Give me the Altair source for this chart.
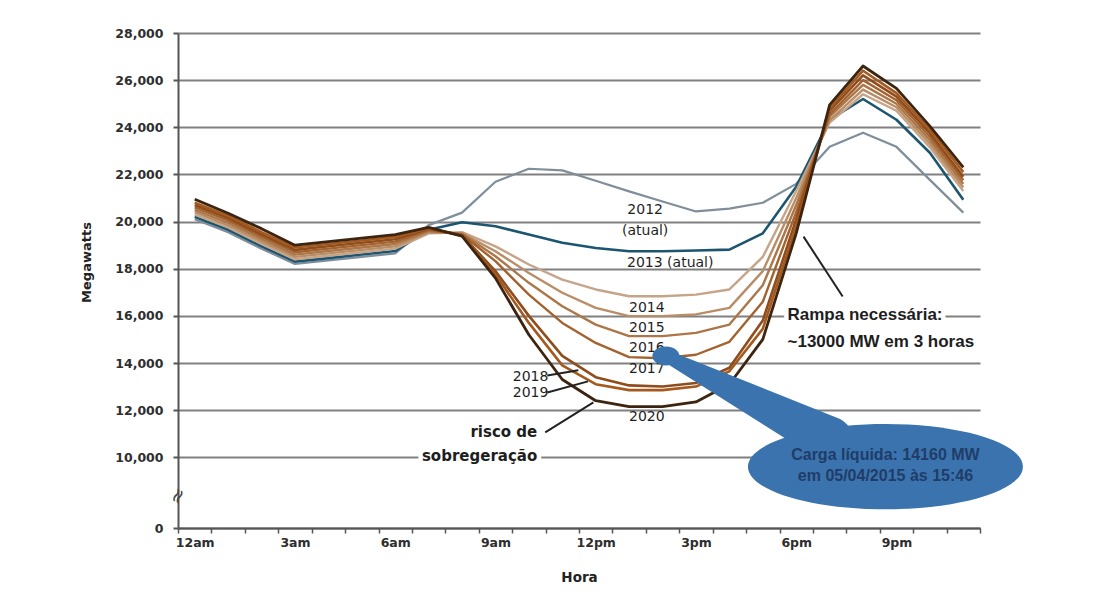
import json

import altair as alt
import pandas as pd

# ---- data -----------------------------------------------------------------
HOURS = list(range(24))
HOUR_LABELS = ["12am", "3am", "6am", "9am", "12pm", "3pm", "6pm", "9pm"]

YEARS = ["2012", "2013", "2014", "2015", "2016", "2017", "2018", "2019", "2020"]

LOAD_2012 = [20100, 19550, 18850, 18200, 18350, 18500, 18650, 19850, 20380, 21690, 22240, 22170,
             21730, 21280, 20850, 20430, 20550, 20800, 21600, 23170, 23770, 23170, 21770, 20380]
LOAD_2013 = [20200, 19650, 18950, 18300, 18450, 18600, 18750, 19650, 19970, 19800, 19450, 19100,
             18880, 18740, 18740, 18770, 18810, 19500, 21480, 24320, 25200, 24320, 22920, 20930]
LOAD_2014 = [20300, 19750, 19050, 18400, 18550, 18700, 18850, 19500, 19550, 18950, 18180, 17540,
             17120, 16830, 16830, 16900, 17120, 18500, 21300, 24200, 25400, 24700, 23150, 21300]
LOAD_2015 = [20400, 19850, 19150, 18500, 18650, 18800, 18950, 19550, 19500, 18740, 17820, 16980,
             16340, 15990, 15990, 16060, 16340, 17900, 21000, 24300, 25600, 24850, 23300, 21450]
LOAD_2016 = [20500, 19950, 19250, 18600, 18750, 18900, 19050, 19600, 19480, 18530, 17400, 16410,
             15630, 15140, 15140, 15280, 15630, 17300, 20700, 24450, 25800, 25000, 23450, 21600]
LOAD_2017 = [20600, 20050, 19350, 18700, 18850, 19000, 19150, 19650, 19450, 18320, 16900, 15700,
             14850, 14250, 14200, 14350, 14900, 16600, 20400, 24550, 26000, 25150, 23600, 21750]
LOAD_2018 = [20700, 20150, 19450, 18800, 18950, 19100, 19250, 19700, 19420, 17900, 16000, 14300,
             13400, 13050, 13000, 13150, 13800, 15800, 20100, 24700, 26200, 25300, 23750, 21900]
LOAD_2019 = [20800, 20250, 19550, 18900, 19050, 19200, 19350, 19720, 19400, 17750, 15700, 13900,
             13100, 12850, 12850, 13000, 13650, 15450, 19800, 24800, 26400, 25450, 23900, 22100]
LOAD_2020 = [20950, 20350, 19700, 19000, 19150, 19300, 19450, 19750, 19380, 17600, 15200, 13300,
             12400, 12150, 12150, 12350, 13100, 15000, 19500, 24950, 26600, 25650, 24050, 22300]

LOADS = [LOAD_2012, LOAD_2013, LOAD_2014, LOAD_2015, LOAD_2016,
         LOAD_2017, LOAD_2018, LOAD_2019, LOAD_2020]

LINE_COLORS = ["#7f8e9a", "#1c5570", "#c6a488", "#b98d66", "#ab7648",
               "#a3622e", "#8f4c1c", "#a4591f", "#3d2410"]
LINE_WIDTHS = [2.2, 2.6, 2.4, 2.4, 2.4, 2.4, 2.6, 2.6, 2.8]

# broken value axis: the bottom of the scale is labelled 0
AXIS_ZERO = 7000
Y_TICKS = [AXIS_ZERO, 10000, 12000, 14000, 16000, 18000, 20000, 22000, 24000, 26000, 28000]

# series labels (hour, MW, text)
YEAR_LABEL_HOUR = [13.48, 13.48, 14.23, 13.53, 13.53, 13.53, 13.53, 10.05, 10.05, 13.53]
YEAR_LABEL_MW = [20480, 19600, 18260, 16340, 15490, 14650, 13730, 13400, 12740, 11700]
YEAR_LABEL_TEXT = ["2012", "(atual)", "2013 (atual)", "2014", "2015", "2016", "2017",
                   "2018", "2019", "2020"]

# leader lines (start hour, start MW, end hour, end MW)
LEADER_H1 = [10.55, 10.55, 10.49, 18.22]
LEADER_MW1 = [13470, 12750, 11060, 19360]
LEADER_H2 = [11.48, 11.77, 11.93, 19.39]
LEADER_MW2 = [13690, 13220, 12330, 16820]

# callout: marker, pointer and bubble
CALLOUT_POINT_HOUR = 14.1
CALLOUT_POINT_MW = 14300
CALLOUT_TIP_HOUR = 19.0
CALLOUT_TIP_MW = 10760
CALLOUT_HOUR = 20.67
CALLOUT_MW = 9600
CALLOUT_LINES = ["Carga líquida: 14160 MW", "em 05/04/2015 às 15:46"]
CALLOUT_LINE_MW = [10090, 9200]

RAMP_TEXT = ["Rampa necessária:", "~13000 MW em 3 horas"]
RAMP_HOUR = 17.74
RAMP_MW = [16050, 14870]

RISK_TEXT = ["risco de", "sobregeração"]
RISK_HOUR = 10.25
RISK_MW = [11060, 10040]

# ---- encodings ------------------------------------------------------------
label_js = json.dumps(HOUR_LABELS)
x_axis = alt.Axis(
    values=[v / 2 for v in range(-1, 48)],
    labelExpr=f"datum.value % 3 === 0 ? {label_js}[datum.value / 3] : ''",
    tickOpacity={"condition": {"test": "datum.value % 1 !== 0", "value": 1}, "value": 0},
    grid=False,
    domainColor="#555555", domainWidth=2,
    tickColor="#555555", tickWidth=1.5, tickSize=5,
    labelFont="DejaVu Sans", labelFontWeight="bold", labelFontSize=12.5, labelColor="#2e2e2e",
    labelPadding=3, labelOverlap=False, labelFlush=False,
    title="Hora", titleFont="DejaVu Sans", titleFontSize=13.5, titleFontWeight="bold",
    titleColor="#222222", titleY=49, titleBaseline="middle",
)
y_axis = alt.Axis(
    values=Y_TICKS,
    labelExpr=f"datum.value == {AXIS_ZERO} ? '0' : format(datum.value, ',')",
    grid=True, gridColor="#808080", gridWidth=2,
    domainColor="#555555", domainWidth=2,
    tickColor="#555555", tickWidth=2, tickSize=5,
    labelFont="DejaVu Sans", labelFontWeight="bold", labelFontSize=12.5, labelColor="#2e2e2e",
    labelPadding=10,
    title="Megawatts", titleFont="DejaVu Sans", titleFontSize=13, titleFontWeight="bold",
    titleColor="#222222", titleAngle=270, titleX=-92, titleY=229,
    titleAlign="center", titleBaseline="middle",
)
x_scale = alt.Scale(domain=[-0.5, 23.5], nice=False, zero=False)
y_scale = alt.Scale(domain=[AXIS_ZERO, 28000], nice=False, zero=False)


def X(field="hour"):
    return alt.X(f"{field}:Q", scale=x_scale, axis=x_axis)


def Y(field="mw"):
    return alt.Y(f"{field}:Q", scale=y_scale, axis=y_axis)


# ---- net-load curves -------------------------------------------------------
layers = []
for year, load, color, width in zip(YEARS, LOADS, LINE_COLORS, LINE_WIDTHS):
    df = pd.DataFrame({"hour": HOURS, "mw": load, "year": year})
    layers.append(
        alt.Chart(df).mark_line(color=color, strokeWidth=width, strokeJoin="round")
        .encode(x=X(), y=Y())
    )

# axis break marker on the value axis
brk = pd.DataFrame({"hour": [-0.5], "mw": [8350], "t": ["≈"]})
layers.append(
    alt.Chart(brk).mark_text(fontSize=20, angle=295, color="#444444", font="DejaVu Sans")
    .encode(x=X(), y=Y(), text="t:N")
)

# leader lines
leaders = pd.DataFrame({"hour": LEADER_H1, "mw": LEADER_MW1,
                        "hour2": LEADER_H2, "mw2": LEADER_MW2})
layers.append(
    alt.Chart(leaders).mark_rule(color="#222222", strokeWidth=2)
    .encode(x=X(), y=Y(), x2="hour2:Q", y2="mw2:Q")
)

# series labels
labels = pd.DataFrame({"hour": YEAR_LABEL_HOUR, "mw": YEAR_LABEL_MW, "t": YEAR_LABEL_TEXT})
layers.append(
    alt.Chart(labels).mark_text(font="DejaVu Sans", fontSize=14, color="#1f1f1f",
                                baseline="middle", align="center")
    .encode(x=X(), y=Y(), text="t:N")
)

# over-generation note, with a white halo that breaks the grid line behind it
risk = pd.DataFrame({"hour": [RISK_HOUR] * 2, "mw": RISK_MW, "t": RISK_TEXT})
risk_style = dict(font="DejaVu Sans", fontSize=15, fontWeight="bold", align="right",
                  baseline="middle")
layers.append(
    alt.Chart(risk).mark_text(color="white", stroke="white", strokeWidth=9, **risk_style)
    .encode(x=X(), y=Y(), text="t:N")
)
layers.append(
    alt.Chart(risk).mark_text(color="#1e1e1e", **risk_style)
    .encode(x=X(), y=Y(), text="t:N")
)

# ramp note
ramp = pd.DataFrame({"hour": [RAMP_HOUR] * 2, "mw": RAMP_MW, "t": RAMP_TEXT})
ramp_style = dict(font="Liberation Sans", fontSize=17, fontWeight="bold", align="left",
                  baseline="middle")
layers.append(
    alt.Chart(ramp).mark_text(color="white", stroke="white", strokeWidth=9, **ramp_style)
    .encode(x=X(), y=Y(), text="t:N")
)
layers.append(
    alt.Chart(ramp).mark_text(color="#1e1e1e", **ramp_style)
    .encode(x=X(), y=Y(), text="t:N")
)

# callout: pointer wedge, marker and bubble
CALLOUT_BLUE = "#3b73ae"
wedge = pd.DataFrame({"hour": [CALLOUT_POINT_HOUR, CALLOUT_TIP_HOUR],
                      "mw": [CALLOUT_POINT_MW, CALLOUT_TIP_MW], "w": [12, 46]})
layers.append(
    alt.Chart(wedge).mark_trail(color=CALLOUT_BLUE)
    .encode(x=X(), y=Y(), size=alt.Size("w:Q", scale=None, legend=None))
)
ELLIPSE_PATH = "M -1 0 A 1 {r} 0 1 0 1 0 A 1 {r} 0 1 0 -1 0 Z"
marker = pd.DataFrame({"hour": [CALLOUT_POINT_HOUR], "mw": [CALLOUT_POINT_MW]})
layers.append(
    alt.Chart(marker).mark_point(filled=True, opacity=1, color=CALLOUT_BLUE, strokeWidth=0)
    .encode(x=X(), y=Y(), shape=alt.value(ELLIPSE_PATH.format(r=0.7)), size=alt.value(27 * 27))
)
bubble = pd.DataFrame({"hour": [CALLOUT_HOUR], "mw": [CALLOUT_MW]})
layers.append(
    alt.Chart(bubble).mark_point(filled=True, opacity=1, color=CALLOUT_BLUE, strokeWidth=0)
    .encode(x=X(), y=Y(), shape=alt.value(ELLIPSE_PATH.format(r=0.31)),
            size=alt.value(275 * 275))
)
callout_text = pd.DataFrame({"hour": [CALLOUT_HOUR] * 2, "mw": CALLOUT_LINE_MW,
                             "t": CALLOUT_LINES})
layers.append(
    alt.Chart(callout_text).mark_text(font="Liberation Sans", fontSize=16, fontWeight="bold",
                                      color="#1f3d68", align="center", baseline="middle")
    .encode(x=X(), y=Y(), text="t:N")
)

chart = (
    alt.layer(*layers)
    .properties(
        width=802,
        height=495,
        padding={"left": 178, "top": 33, "right": 128, "bottom": 67},
        autosize=alt.AutoSizeParams(type="none"),
        background="white",
    )
    .configure_view(stroke=None)
)

chart.save("out.html", embed_options={"renderer": "svg", "actions": False})
